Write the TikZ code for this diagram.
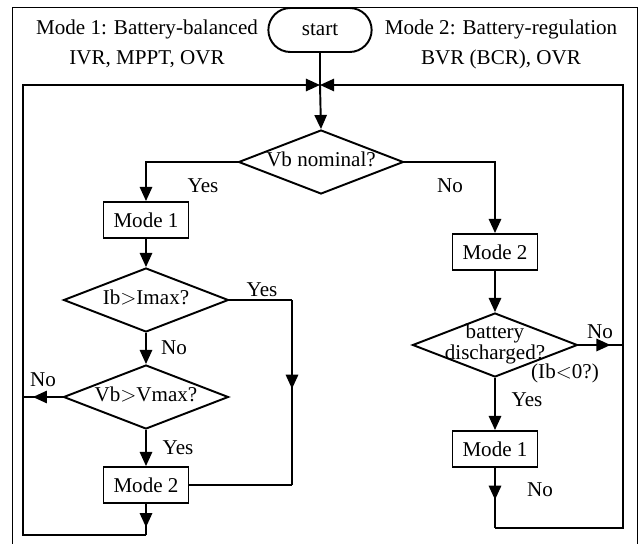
\documentclass[tikz,border=0pt]{standalone}
\usepackage{fontspec}
\setmainfont{Liberation Serif}
\usetikzlibrary{shapes.geometric,shapes.misc,arrows.meta,positioning,decorations.markings}

% text set inside a diamond without letting it grow the shape
\newcommand{\dtext}[1]{\raisebox{-3pt}[0pt][0pt]{\makebox[0pt]{%
  \renewcommand{\arraystretch}{0.7}\begin{tabular}{@{}c@{}}#1\end{tabular}}}}

\tikzset{
  flow/.style={line width=1.1pt},
  tip/.style={-{Triangle[length=8pt,width=7pt]}},
  midtip/.style={postaction={decorate},decoration={markings,
      mark=at position #1 with {\arrow{Triangle[length=8pt,width=7pt]}}}},
  modebox/.style={draw,line width=1.1pt,minimum width=1.7cm,minimum height=0.72cm,inner sep=2pt},
  decision/.style={draw,diamond,line width=1.1pt,minimum width=3.3cm,minimum height=1.28cm,inner sep=0pt},
  startbox/.style={draw,rounded rectangle,line width=1.1pt,minimum width=2.3cm,minimum height=0.88cm},
  lbl/.style={font=\fontsize{12}{17}\selectfont}
}

\begin{document}
\begin{tikzpicture}[x=0.02cm,y=-0.02cm,lbl]
    \useasboundingbox (0,0) rectangle (642,544);
    % Frame
    \draw[line width=0.5pt] (12,544) -- (12,7) -- (637,7) -- (637,544);

    % Header
    \node[startbox] (start) at (320,30) {start};
    \node[align=center] (mode1txt) at (147,44) {Mode 1: Battery-balanced\\IVR, MPPT, OVR};
    \node[align=center] (mode2txt) at (501,44) {Mode 2: Battery-regulation\\BVR (BCR), OVR};

    % Blocks
    \node[decision] (vbnom) at (321,162) {\dtext{Vb nominal?}};
    \node[modebox] (m1a) at (146,220) {Mode 1};
    \node[decision] (ibmax) at (146,300) {\dtext{Ib$>$Imax?}};
    \node[decision] (vbmax) at (146,397) {\dtext{Vb$>$Vmax?}};
    \node[modebox] (m2a) at (146,485) {Mode 2};
    \node[modebox] (m2b) at (495,252) {Mode 2};
    \node[decision] (batt) at (495,345) {\dtext{battery\\discharged?}};
    \node[modebox] (m1b) at (495,449) {Mode 1};

    % Junction and corners
    \coordinate (J) at (320,85);
    \coordinate (lt) at (23,85);
    \coordinate (rt) at (623,85);
    \coordinate (lb) at (146,535);
    \coordinate (lc) at (23,535);
    \coordinate (rb) at (495,528);
    \coordinate (rc) at (623,528);
    \coordinate (ibr) at (292,300);
    \coordinate (ibd) at (292,485);
    \coordinate (vbl) at (23,397);
    \coordinate (bar) at (623,345);

    % Main flow
    \draw[flow] (start) -- (J);
    \draw[flow,tip] (J) -- (vbnom.north);
    \draw[flow,tip] (vbnom.west) -| (m1a.north);
    \draw[flow,tip] (vbnom.east) -| (m2b.north);
    \draw[flow,tip] (m1a) -- (ibmax.north);
    \draw[flow,tip] (ibmax) -- (vbmax.north);
    \draw[flow,tip] (vbmax) -- (m2a.north);
    \draw[flow,tip] (m2b) -- (batt.north);
    \draw[flow,tip] (batt) -- (m1b.north);

    % Ib>Imax yes branch
    \draw[flow] (ibmax.east) -- (ibr);
    \draw[flow,midtip=0.48] (ibr) -- (ibd);
    \draw[flow] (ibd) -- (m2a.east);

    % Side exits
    \draw[flow,midtip=0.75] (vbmax.west) -- (vbl);
    \draw[flow,midtip=0.72] (batt.east) -- (bar);

    % Loops back to junction
    \draw[flow,midtip=0.75] (m2a.south) -- (lb);
    \draw[flow,tip] (lb) -- (lc) -- (lt) -- (J);
    \draw[flow,midtip=0.53] (m1b.south) -- (rb);
    \draw[flow,tip] (rb) -- (rc) -- (rt) -- (J);

    % Labels
    \node (yes1) at (203,186) {Yes};
    \node (no1) at (450,186) {No};
    \node (yes2) at (262,290) {Yes};
    \node (no2) at (174,348) {No};
    \node (no3) at (43,380) {No};
    \node (yes3) at (178,448) {Yes};
    \node (no4) at (600,332) {No};
    \node (ibneg) at (565,373) {(Ib$<$0?)};
    \node (yes4) at (527,400) {Yes};
    \node (no5) at (540,490) {No};
\end{tikzpicture}
\end{document}
